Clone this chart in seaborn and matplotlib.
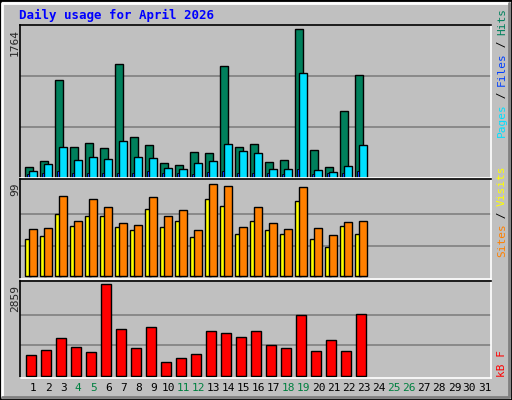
import matplotlib
matplotlib.use("Agg")
import matplotlib.pyplot as plt
import seaborn as sns
import numpy as np
from matplotlib.patches import Rectangle

sns.set_style("white")
plt.rcParams['font.family'] = ['DejaVu Sans Mono', 'DejaVu Sans']

days = list(range(1, 24))
hits = [128, 200, 1157, 367, 415, 355, 1349, 487, 391, 176, 152, 307, 295, 1325, 367, 403, 188, 212, 1764, 331, 128, 786, 1217]
pages = [80, 164, 367, 212, 247, 223, 439, 247, 235, 116, 104, 176, 200, 403, 319, 295, 104, 104, 1241, 92, 68, 140, 391]
files = [40, 48, 80, 48, 56, 48, 48, 48, 80, 48, 48, 40, 64, 80, 48, 56, 48, 40, 96, 40, 48, 48, 80]
visits = [51, 52, 86, 60, 83, 75, 57, 55, 85, 65, 71, 50, 99, 97, 53, 75, 57, 51, 96, 52, 44, 58, 60]
sites = [40, 43, 67, 54, 65, 65, 53, 50, 72, 53, 59, 42, 83, 76, 45, 60, 50, 45, 81, 40, 32, 54, 46]
kbytes = [636, 793, 1169, 887, 730, 2859, 1450, 856, 1513, 417, 543, 668, 1388, 1325, 1200, 1388, 950, 856, 1889, 762, 1106, 762, 1920]
all_days = list(range(1, 32))
weekends = [4, 5, 11, 12, 18, 19, 25, 26]

BG = "#C0C0C0"
W, H = 512, 400
fig = plt.figure(figsize=(5.12, 4.0), dpi=100, facecolor=BG)

# bevel border
fig.patches.append(Rectangle((0, 0), 1, 1, transform=fig.transFigure, fill=False, ec="black", lw=2))
fig.add_artist(plt.Line2D([2/W, 2/W, 1-3/W], [3/H, 1-3/H, 1-3/H], color="white", lw=2, transform=fig.transFigure))
fig.add_artist(plt.Line2D([2/W, 1-3/W, 1-3/W], [3/H, 3/H, 1-3/H], color="#808080", lw=2, transform=fig.transFigure))

def mkax(top, bot):
    ax = fig.add_axes([20/W, 1-bot/H, 471/W, (bot-top)/H])
    ax.set_facecolor(BG)
    ax.set_xlim(0.133, 31.53)
    ax.set_xticks([]); ax.set_yticks([])
    for s in ["left", "top"]:
        ax.spines[s].set_color("black")
    for s in ["right", "bottom"]:
        ax.spines[s].set_color("white")
    for sp in ax.spines.values():
        sp.set_linewidth(1.2)
    return ax

d = np.array(days)
ax1 = mkax(25, 177.5)
ax1.set_ylim(0, 1812)
for v in (604, 1208):
    ax1.axhline(v, color="#808080", lw=1.2, zorder=0)
ax1.bar(d - 0.53, hits, width=0.5, align="edge", color="#00805c", ec="black", lw=1)
ax1.bar(d - 0.27, pages, width=0.53, align="edge", color="#00e0ff", ec="black", lw=1)
ax1.bar(d - 0.42, files, width=0.12, align="edge", color="#0040ff", ec="black", lw=0.6)

ax2 = mkax(179, 279)
ax2.set_ylim(-2.9, 104.7)
for v in (33, 67):
    ax2.axhline(v, color="#808080", lw=1.2, zorder=0)
ax2.bar(d - 0.53, sites, width=0.4, align="edge", color="#ffff00", ec="black", lw=1)
ax2.bar(d - 0.25, visits, width=0.5, align="edge", color="#ff8000", ec="black", lw=1)

ax3 = mkax(281, 378)
ax3.set_ylim(-72, 2962)
for v in (953, 1906):
    ax3.axhline(v, color="#808080", lw=1.2, zorder=0)
ax3.bar(d - 0.47, kbytes, width=0.7, align="edge", color="#ff0000", ec="black", lw=1)

# x labels
for dd in all_days:
    x = (33 + (dd - 1) * 15.05) / W
    fig.text(x, 1 - 388/H, str(dd), ha="center", va="center", fontsize=8,
             color="#008040" if dd in weekends else "black")

fig.text(19/W, 1 - 15/H, "Daily usage for April 2026", color="#0000ff", fontsize=9,
         fontweight="bold", va="center", ha="left")
fig.text(15/W, 1 - 29/H, str(max(hits)), rotation=90, fontsize=8, ha="center", va="top")
fig.text(15/W, 1 - 183/H, str(max(visits)), rotation=90, fontsize=8, ha="center", va="top")
fig.text(15/W, 1 - 285/H, str(max(kbytes)), rotation=90, fontsize=8, ha="center", va="top")

def vlabel(parts, ybottom):
    y = ybottom
    for txt, col in parts:
        t = fig.text(502/W, 1 - y/H, txt, rotation=90, color=col, fontsize=8,
                     ha="center", va="bottom")
        y -= len(txt) * 6.4
vlabel([("Pages", "#00e0ff"), (" / ", "black"), ("Files", "#0040ff"), (" / ", "black"), ("Hits", "#00805c")], 137)
vlabel([("Sites", "#ff8000"), (" / ", "black"), ("Visits", "#ffff00")], 257)
vlabel([("kB F", "#ff0000")], 377)

fig.savefig("out.png", dpi=100, facecolor=BG)
